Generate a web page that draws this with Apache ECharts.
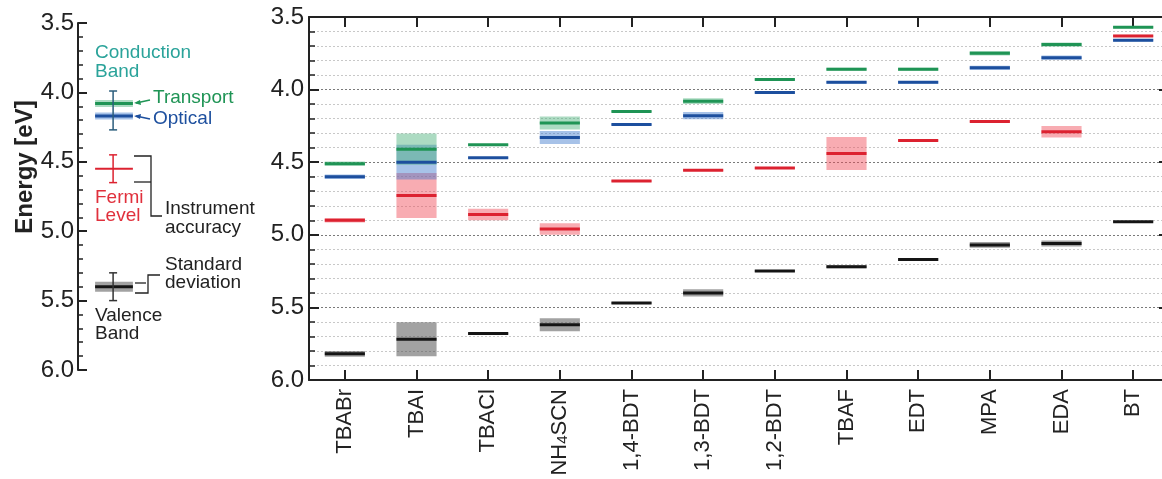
<!DOCTYPE html>
<html><head><meta charset="utf-8">
<script src="https://cdn.jsdelivr.net/npm/echarts@6/dist/echarts.min.js"></script>
<style>html,body{margin:0;padding:0;background:#fff}#c{width:1162px;height:479px}</style>
</head><body><div id="c"></div>
<script>
const categories = ['TBABr','TBAI','TBACl','NH4SCN','1,4-BDT','1,3-BDT','1,2-BDT','TBAF','EDT','MPA','EDA','BT'];
const transport    = [4.51, 4.41, 4.38, 4.23, 4.15, 4.08, 3.93, 3.86, 3.86, 3.75, 3.69, 3.57];
const transportStd = [0.015,0.108,0.005,0.045,0.005,0.02, 0.005,0.01, 0.01, 0.015,0.015,0.008];
const optical      = [4.60, 4.50, 4.47, 4.33, 4.24, 4.18, 4.02, 3.95, 3.95, 3.85, 3.78, 3.66];
const opticalStd   = [0.015,0.12, 0.005,0.045,0.005,0.025,0.005,0.01, 0.01, 0.015,0.015,0.008];
const fermi        = [4.90, 4.73, 4.86, 4.96, 4.63, 4.555,4.54, 4.44, 4.35, 4.22, 4.29, 3.63];
const fermiStd     = [0.015,0.155,0.04, 0.04, 0.005,0.005,0.005,0.114,0.005,0.005,0.04, 0.008];
const valence      = [5.82, 5.72, 5.68, 5.62, 5.47, 5.40, 5.25, 5.22, 5.17, 5.07, 5.06, 4.91];
const valenceStd   = [0.02, 0.117,0.005,0.045,0.005,0.025,0.005,0.01, 0.01, 0.02, 0.02, 0.005];
const yTicks = [3.5, 4.0, 4.5, 5.0, 5.5, 6.0];

// legend key (left panel) sample values
const keyLevels = [4.08, 4.17, 4.55, 5.40];
const keyBands  = [0.025, 0.025, 0, 0.036];
const keyErrCenter = [4.13, 4.55, 5.40];
const keyErrHalf   = [0.14, 0.10, 0.10];

const FONT = 'Liberation Sans, Arial, sans-serif';
const C = {
  green: '#1f9455', greenBand: 'rgba(70,175,120,0.45)',
  blue: '#1d4f9e', blueBand: 'rgba(60,120,205,0.45)',
  red: '#dc2230', redBand: 'rgba(240,70,85,0.45)',
  black: '#151515', blackBand: 'rgba(70,70,70,0.5)'
};

function bandSeries(name, vals, stds, fill) {
  return {
    type: 'custom', name: name + 'Band', xAxisIndex: 0, yAxisIndex: 0, z: 2,
    data: vals.map((v, i) => [i, v, stds[i]]),
    renderItem: function (params, api) {
      const x = api.value(0), e = api.value(1), s = api.value(2);
      const p = api.coord([x, e]);
      const w = api.size([1, 0])[0] * 0.56;
      const t = api.coord([x, e - s])[1], b = api.coord([x, e + s])[1];
      return {type: 'rect', shape: {x: p[0] - w / 2, y: Math.min(t, b), width: w, height: Math.abs(b - t)}, style: {fill: fill}};
    }
  };
}
function lineSeries(name, vals, color) {
  return {
    type: 'custom', name: name, xAxisIndex: 0, yAxisIndex: 0, z: 3,
    data: vals.map((v, i) => [i, v]),
    renderItem: function (params, api) {
      const x = api.value(0), e = api.value(1);
      const p = api.coord([x, e]);
      const w = api.size([1, 0])[0] * 0.56;
      return {type: 'line', shape: {x1: p[0] - w / 2, y1: p[1], x2: p[0] + w / 2, y2: p[1]}, style: {stroke: color, lineWidth: 3}};
    }
  };
}

const yAxisCommon = {
  type: 'value', inverse: true, min: 3.5, max: 6.0, interval: 0.5,
  axisLine: {show: true, lineStyle: {color: '#222', width: 2}},
};

const chart = echarts.init(document.getElementById('c'), null, {renderer: 'canvas'});
const keyColors = [C.green, C.blue, C.red, C.black];
const keyBandColors = [C.greenBand, C.blueBand, C.redBand, C.blackBand];
const errColors = ['#2b5d7c', C.red, '#333'];

const option = {
  animation: false,
  backgroundColor: '#fff',
  grid: [
    {left: 309, top: 17, width: 860, height: 363, outerBoundsMode: 'none', containLabel: false},
    {left: 78, top: 23, width: 90, height: 347, outerBoundsMode: 'none', containLabel: false}
  ],
  xAxis: [
    {type: 'category', gridIndex: 0, data: categories, position: 'bottom', boundaryGap: true,
     axisLine: {lineStyle: {color: '#222', width: 2}},
     axisTick: {show: true, inside: true, alignWithLabel: true, length: 10, lineStyle: {color: '#222', width: 2}},
     axisLabel: {rotate: 90, fontSize: 22, color: '#222', fontFamily: FONT, margin: 9, interval: 0,
       formatter: v => v === 'NH4SCN' ? 'NH{s|4}SCN' : v,
       rich: {s: {fontSize: 15, color: '#222', fontFamily: FONT, verticalAlign: 'bottom'}}},
     splitLine: {show: false}},
    {type: 'category', gridIndex: 0, data: categories, position: 'top', boundaryGap: true,
     axisLine: {lineStyle: {color: '#222', width: 2}},
     axisTick: {show: true, inside: true, alignWithLabel: true, length: 10, lineStyle: {color: '#222', width: 2}},
     axisLabel: {show: false}, splitLine: {show: false}},
    {type: 'value', gridIndex: 1, min: 0, max: 1, show: false}
  ],
  yAxis: [
    Object.assign({}, yAxisCommon, {gridIndex: 0, position: 'left',
      axisTick: {show: true, inside: true, length: 10, lineStyle: {color: '#222', width: 2}},
      minorTick: {show: true, splitNumber: 5, length: 6, lineStyle: {color: '#222', width: 1.5}},
      axisLabel: {fontSize: 24, color: '#222', fontFamily: FONT, margin: 5, formatter: v => v.toFixed(1)},
      splitLine: {show: true, lineStyle: {color: '#7a7a7a', type: [2, 2], width: 1}},
      minorSplitLine: {show: true, lineStyle: {color: '#c8c8c8', type: [2, 2], width: 1}}}),
    Object.assign({}, yAxisCommon, {gridIndex: 0, position: 'right',
      axisTick: {show: true, inside: true, length: 10, lineStyle: {color: '#222', width: 2}},
      axisLabel: {show: false}, splitLine: {show: false}}),
    Object.assign({}, yAxisCommon, {gridIndex: 1, position: 'left',
      axisTick: {show: true, inside: true, length: 9, lineStyle: {color: '#222', width: 2}},
      minorTick: {show: true, splitNumber: 5, length: 5, lineStyle: {color: '#222', width: 1.5}},
      axisLabel: {fontSize: 24, color: '#222', fontFamily: FONT, margin: 4, formatter: v => v.toFixed(1)},
      splitLine: {show: false}})
  ],
  series: [
    bandSeries('Valence', valence, valenceStd, C.blackBand),
    bandSeries('Fermi', fermi, fermiStd, C.redBand),
    bandSeries('Optical', optical, opticalStd, C.blueBand),
    bandSeries('Transport', transport, transportStd, C.greenBand),
    lineSeries('Valence', valence, C.black),
    lineSeries('Fermi', fermi, C.red),
    lineSeries('Optical', optical, C.blue),
    lineSeries('Transport', transport, C.green),
    {
      type: 'custom', name: 'keyLevels', xAxisIndex: 2, yAxisIndex: 2, z: 3,
      data: keyLevels.map((v, i) => [0.5, v, keyBands[i], i]),
      renderItem: function (params, api) {
        const e = api.value(1), s = api.value(2), i = api.value(3);
        const x0 = api.coord([0.19, e])[0], x1 = api.coord([0.61, e])[0];
        const y = api.coord([0.5, e])[1];
        const kids = [];
        if (s > 0) {
          const t = api.coord([0.5, e - s])[1], b = api.coord([0.5, e + s])[1];
          kids.push({type: 'rect', shape: {x: x0, y: t, width: x1 - x0, height: b - t}, style: {fill: keyBandColors[i]}});
        }
        kids.push({type: 'line', shape: {x1: x0, y1: y, x2: x1, y2: y}, style: {stroke: keyColors[i], lineWidth: i === 2 ? 2 : 3}});
        return {type: 'group', children: kids};
      }
    },
    {
      type: 'custom', name: 'keyErr', xAxisIndex: 2, yAxisIndex: 2, z: 4,
      data: keyErrCenter.map((v, i) => [0.39, v, keyErrHalf[i], i]),
      renderItem: function (params, api) {
        const xc = api.value(0), e = api.value(1), h = api.value(2), i = api.value(3);
        const x = api.coord([xc, e])[0];
        const t = api.coord([xc, e - h])[1], b = api.coord([xc, e + h])[1];
        const st = {stroke: errColors[i], lineWidth: 1.5};
        return {type: 'group', children: [
          {type: 'line', shape: {x1: x, y1: t, x2: x, y2: b}, style: st},
          {type: 'line', shape: {x1: x - 4, y1: t, x2: x + 4, y2: t}, style: st},
          {type: 'line', shape: {x1: x - 4, y1: b, x2: x + 4, y2: b}, style: st}
        ]};
      }
    }
  ],
  graphic: [
    {type: 'text', rotation: Math.PI / 2, x: 25, y: 167,
     style: {text: 'Energy [eV]', font: 'bold 24px ' + FONT, fill: '#222', textAlign: 'center', textVerticalAlign: 'middle'}},
    {type: 'text', x: 95, y: 53, style: {text: 'Conduction', font: '19px ' + FONT, fill: '#2aa39a', textVerticalAlign: 'middle'}},
    {type: 'text', x: 95, y: 72, style: {text: 'Band', font: '19px ' + FONT, fill: '#2aa39a', textVerticalAlign: 'middle'}},
    {type: 'text', x: 153, y: 98, style: {text: 'Transport', font: '19px ' + FONT, fill: '#1f9455', textVerticalAlign: 'middle'}},
    {type: 'text', x: 153, y: 119, style: {text: 'Optical', font: '19px ' + FONT, fill: '#1d4f9e', textVerticalAlign: 'middle'}},
    {type: 'polyline', shape: {points: [[150, 100], [136, 103]]}, style: {stroke: '#1f9455', lineWidth: 1.5}},
    {type: 'polygon', shape: {points: [[134, 103], [140, 100], [141, 105]]}, style: {fill: '#1f9455'}},
    {type: 'polyline', shape: {points: [[150, 119], [136, 116]]}, style: {stroke: '#1d4f9e', lineWidth: 1.5}},
    {type: 'polygon', shape: {points: [[134, 116], [141, 114], [140, 119]]}, style: {fill: '#1d4f9e'}},
    {type: 'text', x: 95, y: 198, style: {text: 'Fermi', font: '19px ' + FONT, fill: '#e0303c', textVerticalAlign: 'middle'}},
    {type: 'text', x: 95, y: 216, style: {text: 'Level', font: '19px ' + FONT, fill: '#e0303c', textVerticalAlign: 'middle'}},
    {type: 'polyline', shape: {points: [[134, 156], [151, 156], [151, 216], [162, 216]]}, style: {stroke: '#222', lineWidth: 1.3, fill: null}},
    {type: 'polyline', shape: {points: [[134, 182], [151, 182]]}, style: {stroke: '#222', lineWidth: 1.3}},
    {type: 'text', x: 165, y: 209, style: {text: 'Instrument', font: '19px ' + FONT, fill: '#222', textVerticalAlign: 'middle'}},
    {type: 'text', x: 165, y: 228, style: {text: 'accuracy', font: '19px ' + FONT, fill: '#222', textVerticalAlign: 'middle'}},
    {type: 'polyline', shape: {points: [[135, 283], [146, 283]]}, style: {stroke: '#222', lineWidth: 1.3}},
    {type: 'polyline', shape: {points: [[135, 293], [148, 293], [148, 275], [160, 275]]}, style: {stroke: '#222', lineWidth: 1.3, fill: null}},
    {type: 'text', x: 165, y: 265, style: {text: 'Standard', font: '19px ' + FONT, fill: '#222', textVerticalAlign: 'middle'}},
    {type: 'text', x: 165, y: 283, style: {text: 'deviation', font: '19px ' + FONT, fill: '#222', textVerticalAlign: 'middle'}},
    {type: 'text', x: 95, y: 316, style: {text: 'Valence', font: '19px ' + FONT, fill: '#222', textVerticalAlign: 'middle'}},
    {type: 'text', x: 95, y: 334, style: {text: 'Band', font: '19px ' + FONT, fill: '#222', textVerticalAlign: 'middle'}}
  ]
};
chart.setOption(option);
</script>
</body></html>
